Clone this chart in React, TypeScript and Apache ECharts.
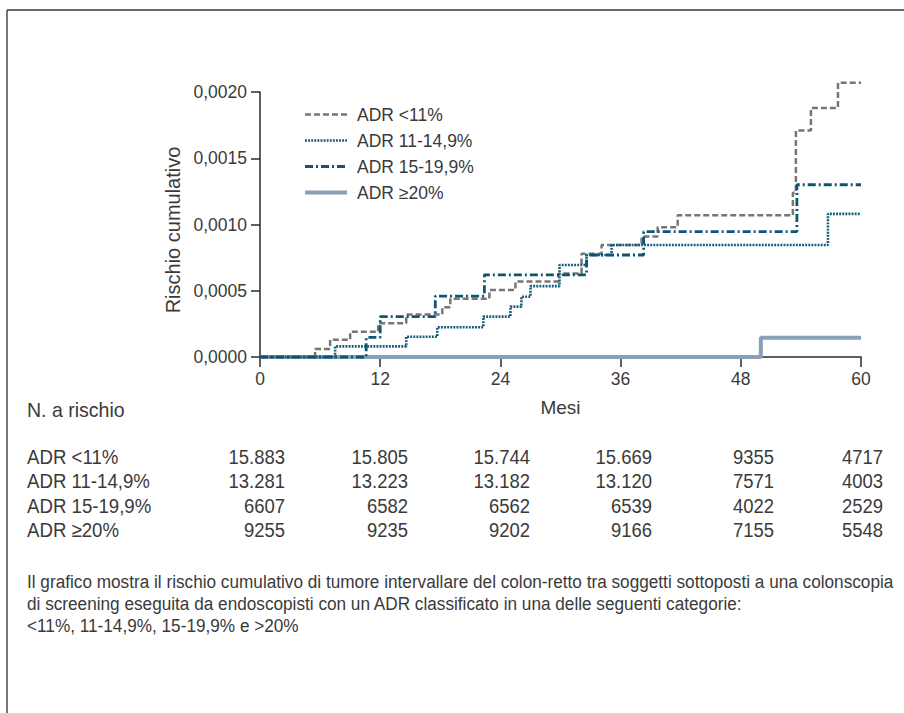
import React, { useEffect, useRef } from "react";
import * as echarts from "echarts";

// ---------- data ----------
const groupNames = ["ADR <11%", "ADR 11-14,9%", "ADR 15-19,9%", "ADR ≥20%"];

// step events: month -> cumulative risk after the event
const lt11Months = [0, 5.5, 7.0, 9.0, 11.8, 14.6, 18.2, 19.0, 22.9, 25.5, 29.8, 32.1, 34.1, 38.1, 39.7, 41.7, 53.2, 53.5, 55.0, 57.7, 60];
const lt11Risk = [0, 0.00006, 0.00013, 0.00019, 0.000255, 0.00032, 0.000375, 0.00044, 0.000506, 0.00057, 0.00063, 0.00078, 0.000845, 0.00091, 0.00098, 0.00107, 0.00124, 0.00171, 0.00188, 0.00207, 0.00207];

const r11to15Months = [0, 7.5, 14.6, 17.7, 22.3, 25.0, 26.1, 27.0, 29.9, 32.6, 35.1, 56.7, 60];
const r11to15Risk = [0, 0.00008, 0.000153, 0.000225, 0.000305, 0.00038, 0.000455, 0.000535, 0.000694, 0.00077, 0.000845, 0.00108, 0.00108];

const r15to20Months = [0, 10.6, 12.0, 17.5, 22.4, 32.6, 38.3, 53.6, 60];
const r15to20Risk = [0, 0.000148, 0.000304, 0.00046, 0.00062, 0.00077, 0.000946, 0.0013, 0.0013];

const ge20Months = [0, 50.0, 60];
const ge20Risk = [0, 0.000146, 0.000146];

const atRiskLabel = "N. a rischio";
const atRiskLt11 = [15883, 15805, 15744, 15669, 9355, 4717];
const atRisk11to15 = [13281, 13223, 13182, 13120, 7571, 4003];
const atRisk15to20 = [6607, 6582, 6562, 6539, 4022, 2529];
const atRiskGe20 = [9255, 9235, 9202, 9166, 7155, 5548];

const captionLines = [
  "Il grafico mostra il rischio cumulativo di tumore intervallare del colon-retto tra soggetti sottoposti a una colonscopia",
  "di screening eseguita da endoscopisti con un ADR classificato in una delle seguenti categorie:",
  "<11%, 11-14,9%, 15-19,9% e >20%",
];

// ---------- styling / layout ----------
const FONT = "'Liberation Sans', Arial, sans-serif";
const TEXT = "#3a3a3a";
const COLORS = ["#767676", "#145d7d", "#0e5574", "#88a1b9"];
const tableColRight = [285, 408, 530, 652, 774, 883];
const tableRowY = [457, 481, 506, 530];

function pairs(xs: number[], ys: number[]) {
  return xs.map((x, i) => [x, ys[i]]);
}
function fmt(n: number) {
  const s = String(n);
  return n >= 10000 ? s.slice(0, s.length - 3) + "." + s.slice(s.length - 3) : s;
}

export default function App() {
  const ref = useRef<HTMLDivElement>(null);
  useEffect(() => {
    if (!ref.current) return;
    const chart = echarts.init(ref.current, undefined, { renderer: "svg" });
    const tableRows = [atRiskLt11, atRisk11to15, atRisk15to20, atRiskGe20];
    const txt = (text: string, x: number, y: number, size: number, sx: number, align = "left") => ({
      type: "text", x, y, scaleX: sx,
      style: { text, fontSize: size, fontFamily: FONT, fill: TEXT, align, verticalAlign: "middle" },
    });
    const graphics: any[] = [
      { type: "line", shape: { x1: 7, y1: 10, x2: 904, y2: 10 }, style: { stroke: "#6a6a6a", lineWidth: 2 } },
      { type: "line", shape: { x1: 7, y1: 10, x2: 7, y2: 713 }, style: { stroke: "#4a4a4a", lineWidth: 1.5 } },
      txt(atRiskLabel, 27, 410, 21, 0.93),
    ];
    groupNames.forEach((g, r) => {
      graphics.push(txt(g, 27, tableRowY[r], 20.5, 0.91));
      tableRows[r].forEach((v, c) => {
        graphics.push(txt(fmt(v), tableColRight[c], tableRowY[r], 20.5, 0.9, "right"));
      });
    });
    captionLines.forEach((line, i) => {
      graphics.push(txt(line, 27, 582 + i * 22, 19, 0.905));
    });

    const seriesData = [
      pairs(lt11Months, lt11Risk),
      pairs(r11to15Months, r11to15Risk),
      pairs(r15to20Months, r15to20Risk),
      pairs(ge20Months, ge20Risk),
    ];
    const lineStyles: any[] = [
      { width: 2.5, type: [6, 3] },
      { width: 2.6, type: [1.9, 1.2] },
      { width: 2.8, type: [8, 3, 2, 3] },
      { width: 4, type: "solid" },
    ];

    chart.setOption({
      animation: false,
      backgroundColor: "#ffffff",
      grid: { left: 260, right: 43, top: 92, bottom: 356, containLabel: false, outerBoundsMode: "none" },
      legend: {
        orient: "vertical",
        left: 298,
        top: 100.5,
        itemWidth: 42,
        itemHeight: 14,
        itemGap: 8,
        data: groupNames,
        itemStyle: { opacity: 0 },
        lineStyle: { width: "inherit" },
        textStyle: { fontSize: 17.5, fontFamily: FONT, color: TEXT, padding: [0, 0, 0, 5] },
      },
      xAxis: {
        type: "value",
        min: 0,
        max: 60,
        interval: 12,
        name: "Mesi",
        nameLocation: "middle",
        nameGap: 41,
        nameTextStyle: { fontSize: 19, fontFamily: FONT, color: TEXT },
        axisLine: { show: true, onZero: false, lineStyle: { color: "#2b2b2b", width: 1.5 } },
        axisTick: { show: true, length: 10, lineStyle: { color: "#2b2b2b", width: 1.5 } },
        axisLabel: { fontSize: 17.5, fontFamily: FONT, color: TEXT, margin: 13 },
        splitLine: { show: false },
      },
      yAxis: {
        type: "value",
        min: 0,
        max: 0.002,
        interval: 0.0005,
        name: "Rischio cumulativo",
        nameLocation: "middle",
        nameGap: 70,
        nameTextStyle: { fontSize: 20, fontFamily: FONT, color: TEXT, padding: [0, 11, 0, 0] },
        axisLine: { show: true, lineStyle: { color: "#2b2b2b", width: 1.5 } },
        axisTick: { show: true, length: 9, lineStyle: { color: "#2b2b2b", width: 1.5 } },
        axisLabel: {
          fontSize: 17.5, fontFamily: FONT, color: TEXT, margin: 13,
          formatter: (v: number) => v.toFixed(4).replace(".", ","),
        },
        splitLine: { show: false },
      },
      series: groupNames.map((name, i) => ({
        type: "line",
        name,
        step: "end",
        data: seriesData[i],
        clip: false,
        showSymbol: false,
        symbol: "none",
        color: COLORS[i],
        itemStyle: { color: COLORS[i] },
        lineStyle: { color: COLORS[i], ...lineStyles[i] },
        z: i === 3 ? 1 : 3 + i,
      })),
      graphic: graphics,
    });
    return () => chart.dispose();
  }, []);
  return (
    <div
      ref={ref}
      style={{ position: "fixed", left: 0, top: 0, width: 904, height: 713, background: "#fff" }}
    />
  );
}
